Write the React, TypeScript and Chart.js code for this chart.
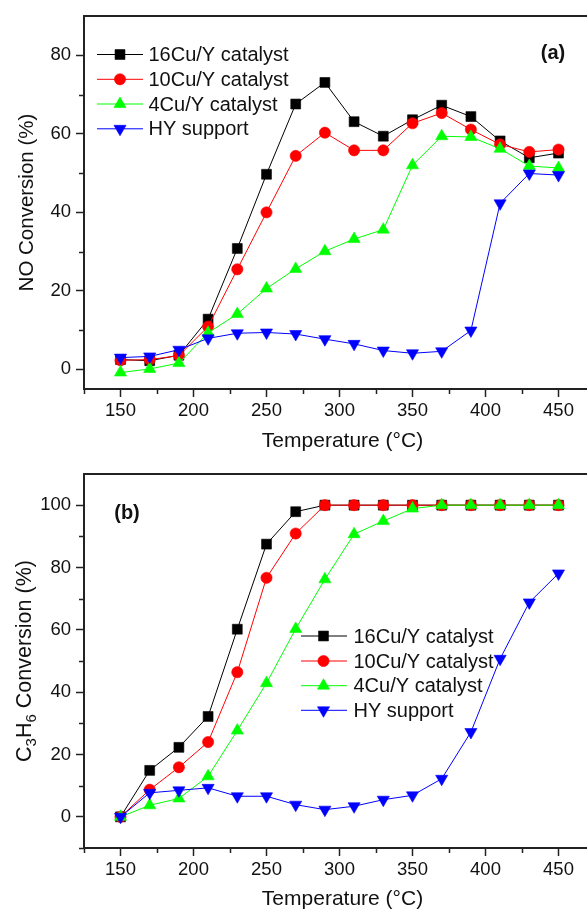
import { useEffect, useRef } from 'react';
import { Chart, registerables } from 'chart.js';

Chart.register(...registerables);

// Reaction temperatures (°C)
const temperatures = [150, 170, 190, 210, 230, 250, 270, 290, 310, 330, 350, 370, 390, 410, 430, 450];

// (a) NO conversion (%)
const cu16NO = [2.5, 2.2, 3.6, 12.8, 30.8, 49.7, 67.6, 73.1, 63.1, 59.4, 63.6, 67.3, 64.4, 58.2, 53.9, 55.1];
const cu10NO = [2.3, 2.5, 3.5, 10.9, 25.5, 40.0, 54.4, 60.3, 55.8, 55.8, 62.7, 65.3, 61.1, 57.3, 55.4, 56.0];
const cu4NO = [-0.8, 0.1, 1.6, 9.3, 14.1, 20.6, 25.6, 30.1, 33.2, 35.6, 52.0, 59.4, 59.2, 56.2, 51.8, 51.3];
const hyNO = [3.0, 3.3, 5.0, 7.9, 9.2, 9.4, 9.0, 7.7, 6.5, 4.8, 4.1, 4.6, 9.9, 42.3, 49.9, 49.5];

// (b) C3H6 conversion (%)
const cu16HC = [0, 14.9, 22.3, 32.2, 60.2, 87.5, 97.9, 100, 100, 100, 100, 100, 100, 100, 100, 100];
const cu10HC = [0, 8.7, 15.9, 24.0, 46.4, 76.7, 90.9, 100, 100, 100, 100, 100, 100, 100, 100, 100];
const cu4HC = [0, 3.7, 5.9, 13.0, 27.7, 42.9, 60.3, 76.2, 90.7, 94.9, 98.9, 100, 100, 100, 100, 100];
const hyHC = [0, 7.7, 8.5, 9.3, 6.6, 6.6, 3.9, 2.3, 3.4, 5.5, 6.9, 12.2, 27.2, 50.7, 68.8, 78.1];

const seriesLabels = ['16Cu/Y catalyst', '10Cu/Y catalyst', '4Cu/Y catalyst', 'HY support'];

// Axis ticks
const xTicks = [150, 200, 250, 300, 350, 400, 450];
const xMinorTicks = [125, 175, 225, 275, 325, 375, 425];
const yTicksA = [0, 20, 40, 60, 80];
const yMinorA = [10, 30, 50, 70];
const yTicksB = [0, 20, 40, 60, 80, 100];
const yMinorB = [-10, 10, 30, 50, 70, 90];

const FONT = "'Liberation Sans', Arial, Helvetica, sans-serif";
const INK = '#111';
const AXIS = '#222';
const CANVAS_W = 610;

type Marker = { color: string; style: 'rect' | 'circle' | 'triangle'; rotation: number; radius: number };
const markers: Marker[] = [
  { color: '#000000', style: 'rect', rotation: 0, radius: 7 },
  { color: '#ff0000', style: 'circle', rotation: 0, radius: 5.6 },
  { color: '#00ff00', style: 'triangle', rotation: 0, radius: 7 },
  { color: '#0000ff', style: 'triangle', rotation: 180, radius: 7 },
];

type TitlePart = { text: string; sub?: boolean };

type PanelSpec = {
  height: number;
  area: { left: number; top: number; right: number; bottom: number };
  yMin: number;
  yMax: number;
  yTicks: number[];
  yMinor: number[];
  values: number[][];
  yTitle: TitlePart[];
  yTitleX: number;
  yTitleSize: number;
  xTitleY: number;
  tag: string;
  tagX: number;
  tagY: number;
  legend: { x1: number; x2: number; mx: number; tx: number; rows: number[] };
};

function drawMarker(ctx: CanvasRenderingContext2D, m: Marker, x: number, y: number) {
  ctx.save();
  ctx.fillStyle = m.color;
  ctx.strokeStyle = m.color;
  ctx.lineWidth = 0.6;
  ctx.beginPath();
  if (m.style === 'rect') {
    const s = Math.SQRT1_2 * m.radius;
    ctx.rect(x - s, y - s, 2 * s, 2 * s);
  } else if (m.style === 'circle') {
    ctx.arc(x, y, m.radius, 0, Math.PI * 2);
  } else {
    let rad = (m.rotation * Math.PI) / 180;
    ctx.moveTo(x + Math.sin(rad) * m.radius, y - Math.cos(rad) * m.radius);
    rad += (2 * Math.PI) / 3;
    ctx.lineTo(x + Math.sin(rad) * m.radius, y - Math.cos(rad) * m.radius);
    rad += (2 * Math.PI) / 3;
    ctx.lineTo(x + Math.sin(rad) * m.radius, y - Math.cos(rad) * m.radius);
    ctx.closePath();
  }
  ctx.fill();
  ctx.stroke();
  ctx.restore();
}

function decorPlugin(spec: PanelSpec) {
  return {
    id: 'panelDecor',
    afterDraw(chart: any) {
      const ctx: CanvasRenderingContext2D = chart.ctx;
      const { left, top, right, bottom } = chart.chartArea;
      const xs = chart.scales.x;
      const ys = chart.scales.y;
      ctx.save();

      // top frame line
      ctx.strokeStyle = AXIS;
      ctx.lineWidth = 2;
      ctx.beginPath();
      ctx.moveTo(left - 1, top);
      ctx.lineTo(right, top);
      ctx.stroke();

      // minor ticks
      ctx.lineWidth = 1.5;
      ctx.beginPath();
      for (const v of spec.yMinor) {
        const py = Math.round(ys.getPixelForValue(v)) + 0.5;
        ctx.moveTo(left - 5, py);
        ctx.lineTo(left, py);
      }
      for (const v of xMinorTicks) {
        const px = Math.round(xs.getPixelForValue(v)) + 0.5;
        ctx.moveTo(px, bottom);
        ctx.lineTo(px, bottom + 5);
      }
      ctx.stroke();

      // x axis title
      ctx.fillStyle = INK;
      ctx.font = `21px ${FONT}`;
      ctx.textAlign = 'center';
      ctx.textBaseline = 'middle';
      ctx.fillText('Temperature (°C)', (left + right) / 2 + 3, spec.xTitleY);

      // y axis title (rotated, with optional subscripts)
      const mainFont = `${spec.yTitleSize}px ${FONT}`;
      const subFont = `15px ${FONT}`;
      let total = 0;
      for (const p of spec.yTitle) {
        ctx.font = p.sub ? subFont : mainFont;
        total += ctx.measureText(p.text).width;
      }
      ctx.save();
      ctx.translate(spec.yTitleX, (top + bottom) / 2);
      ctx.rotate(-Math.PI / 2);
      ctx.textAlign = 'left';
      ctx.textBaseline = 'alphabetic';
      let cx = -total / 2;
      for (const p of spec.yTitle) {
        ctx.font = p.sub ? subFont : mainFont;
        ctx.fillText(p.text, cx, p.sub ? 12.5 : 7.5);
        cx += ctx.measureText(p.text).width;
      }
      ctx.restore();

      // panel tag
      ctx.font = `bold 20px ${FONT}`;
      ctx.textAlign = 'center';
      ctx.textBaseline = 'middle';
      ctx.fillText(spec.tag, spec.tagX, spec.tagY);

      // legend
      const lg = spec.legend;
      ctx.font = `20px ${FONT}`;
      ctx.textAlign = 'left';
      ctx.textBaseline = 'middle';
      lg.rows.forEach((ry, i) => {
        const m = markers[i];
        ctx.strokeStyle = m.color;
        ctx.lineWidth = 1;
        ctx.beginPath();
        ctx.moveTo(lg.x1, ry);
        ctx.lineTo(lg.x2, ry);
        ctx.stroke();
        drawMarker(ctx, m, lg.mx, ry);
        ctx.fillStyle = INK;
        ctx.fillText(seriesLabels[i], lg.tx, ry + 1);
      });

      ctx.restore();
    },
  };
}

function buildChart(canvas: HTMLCanvasElement, spec: PanelSpec) {
  const H = spec.height;
  canvas.width = CANVAS_W;
  canvas.height = H;
  return new Chart(canvas, {
    type: 'line',
    data: {
      datasets: spec.values.map((vals, i) => ({
        label: seriesLabels[i],
        data: temperatures.map((t, j) => ({ x: t, y: vals[j] })),
        borderColor: markers[i].color,
        backgroundColor: markers[i].color,
        borderWidth: 1,
        pointStyle: markers[i].style,
        pointRotation: markers[i].rotation,
        pointRadius: markers[i].radius,
        pointBorderWidth: 0.6,
        pointBorderColor: markers[i].color,
        pointBackgroundColor: markers[i].color,
        tension: 0,
        fill: false,
        clip: false as any,
        order: 4 - i,
      })),
    },
    options: {
      responsive: false,
      animation: false,
      devicePixelRatio: 1,
      events: [],
      layout: { padding: { top: spec.area.top, right: CANVAS_W - spec.area.right, left: 0, bottom: 0 } },
      plugins: { legend: { display: false }, tooltip: { enabled: false }, title: { display: false } },
      scales: {
        x: {
          type: 'linear',
          min: 125,
          max: 475,
          afterFit: (s: any) => {
            s.height = H - spec.area.bottom;
          },
          afterBuildTicks: (s: any) => {
            s.ticks = xTicks.map((v) => ({ value: v }));
          },
          grid: { drawOnChartArea: false, drawTicks: true, tickLength: 8, tickColor: AXIS, tickWidth: 1.5 },
          border: { display: true, color: AXIS, width: 2 },
          ticks: { font: { family: FONT, size: 18.5 }, color: INK, padding: 3, maxRotation: 0, autoSkip: false },
        },
        y: {
          type: 'linear',
          min: spec.yMin,
          max: spec.yMax,
          afterFit: (s: any) => {
            s.width = spec.area.left;
          },
          afterBuildTicks: (s: any) => {
            s.ticks = spec.yTicks.map((v) => ({ value: v }));
          },
          grid: { drawOnChartArea: false, drawTicks: true, tickLength: 8, tickColor: AXIS, tickWidth: 1.5 },
          border: { display: true, color: AXIS, width: 2 },
          ticks: { font: { family: FONT, size: 18.5 }, color: INK, padding: 5, autoSkip: false },
        },
      },
    },
    plugins: [decorPlugin(spec)],
  } as any);
}

const panelA: PanelSpec = {
  height: 456,
  area: { left: 84, top: 13, right: 595, bottom: 389 },
  yMin: -5,
  yMax: 90,
  yTicks: yTicksA,
  yMinor: yMinorA,
  values: [cu16NO, cu10NO, cu4NO, hyNO],
  yTitle: [{ text: 'NO Conversion (%)' }],
  yTitleX: 25,
  yTitleSize: 20.5,
  xTitleY: 441,
  tag: '(a)',
  tagX: 553,
  tagY: 53,
  legend: { x1: 97, x2: 143, mx: 120, tx: 148.5, rows: [54.5, 79.3, 104, 128.8] },
};

const panelB: PanelSpec = {
  height: 456,
  area: { left: 84, top: 18, right: 595, bottom: 392 },
  yMin: -10,
  yMax: 110,
  yTicks: yTicksB,
  yMinor: yMinorB,
  values: [cu16HC, cu10HC, cu4HC, hyHC],
  yTitle: [{ text: 'C' }, { text: '3', sub: true }, { text: 'H' }, { text: '6', sub: true }, { text: ' Conversion (%)' }],
  yTitleX: 23,
  yTitleSize: 21.5,
  xTitleY: 443,
  tag: '(b)',
  tagX: 127,
  tagY: 57.5,
  legend: { x1: 301, x2: 347, mx: 323.5, tx: 353.5, rows: [180, 205, 229.7, 254.3] },
};

function Panel({ spec, top }: { spec: PanelSpec; top: number }) {
  const ref = useRef<HTMLCanvasElement | null>(null);
  useEffect(() => {
    if (!ref.current) return;
    const chart = buildChart(ref.current, spec);
    return () => chart.destroy();
  }, [spec]);
  return (
    <canvas
      ref={ref}
      style={{ position: 'absolute', left: 0, top, width: CANVAS_W, height: spec.height, display: 'block' }}
    />
  );
}

export default function App() {
  return (
    <div
      style={{
        position: 'fixed',
        left: 0,
        top: 0,
        width: 587,
        height: 912,
        overflow: 'hidden',
        background: '#ffffff',
      }}
    >
      <Panel spec={panelA} top={0} />
      <Panel spec={panelB} top={456} />
    </div>
  );
}
